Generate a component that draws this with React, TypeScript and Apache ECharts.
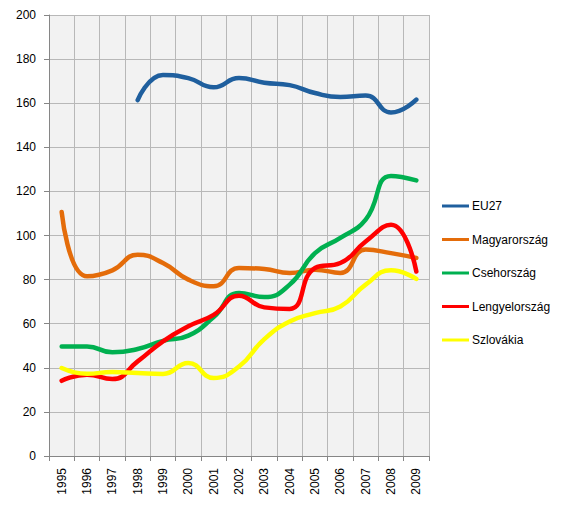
import React, { useEffect, useRef } from "react";
import * as echarts from "echarts";

const years = ["1995","1996","1997","1998","1999","2000","2001","2002","2003","2004","2005","2006","2007","2008","2009"];
const eu27 = [null, null, null, 161.4, 172.8, 171.4, 167.2, 171.4, 169.3, 168.2, 164.6, 162.8, 163.5, 155.8, 161.6];
const magyar = [110.7, 81.5, 84.2, 91.3, 87.5, 80.0, 77.0, 85.3, 84.8, 83.0, 84.5, 83.0, 93.6, 92.0, 89.8];
const cseh = [49.7, 49.7, 47.0, 48.5, 52.2, 54.6, 63.0, 73.9, 72.1, 77.7, 92.0, 98.9, 107.2, 127.0, 125.0];
const lengyel = [34.1, 36.9, 34.9, 42.9, 52.0, 58.8, 64.0, 72.7, 67.4, 66.7, 85.3, 87.5, 97.3, 104.9, 83.7];
const szlovakia = [39.9, 37.3, 38.1, 37.6, 37.2, 42.2, 35.4, 40.6, 53.0, 61.0, 64.8, 67.8, 77.7, 84.2, 80.3];
const seriesNames = ["EU27", "Magyarország", "Csehország", "Lengyelország", "Szlovákia"];
const seriesColors = ["#1f5f9e", "#e46c0a", "#00b050", "#ff0000", "#ffff00"];
const yTicks = { min: 0, max: 200, interval: 20 };

export default function App() {
  const ref = useRef<HTMLDivElement>(null);
  useEffect(() => {
    if (!ref.current) return;
    const chart = echarts.init(ref.current, null, { renderer: "svg" });
    const datasets = [eu27, magyar, cseh, lengyel, szlovakia];
    const font = "Liberation Sans, Arial, sans-serif";
    chart.setOption({
      animation: false,
      backgroundColor: "#ffffff",
      textStyle: { fontFamily: font },
      grid: {
        left: 49, right: 139, top: 15, bottom: 56,
        show: true, backgroundColor: "#f2f2f2", borderWidth: 0,
      },
      legend: {
        orient: "vertical",
        left: 442,
        top: 200,
        padding: 0,
        itemWidth: 27,
        itemHeight: 3,
        itemGap: 21.5,
        icon: "rect",
        data: seriesNames.map((n, i) => ({ name: n, itemStyle: { color: seriesColors[i] } })),
        itemStyle: { borderWidth: 0 },
        textStyle: { fontSize: 12, color: "#000", fontFamily: font, padding: [0, 0, 0, -2] },
      },
      xAxis: {
        type: "category",
        data: years,
        boundaryGap: true,
        axisLine: { lineStyle: { color: "#868686", width: 1 } },
        axisTick: { show: true, length: 5, lineStyle: { color: "#868686" }, alignWithLabel: false },
        axisLabel: { rotate: 90, margin: 12, color: "#000", fontSize: 12, fontFamily: font, interval: 0 },
        splitLine: { show: true, lineStyle: { color: "#b8b8b8", width: 1 } },
      },
      yAxis: {
        type: "value",
        min: yTicks.min,
        max: yTicks.max,
        interval: yTicks.interval,
        axisLine: { show: true, lineStyle: { color: "#868686", width: 1 } },
        axisTick: { show: true, length: 5, lineStyle: { color: "#868686" } },
        axisLabel: { margin: 13, color: "#000", fontSize: 12, fontFamily: font },
        splitLine: { show: true, lineStyle: { color: "#b8b8b8", width: 1 } },
      },
      series: seriesNames.map((n, i) => ({
        name: n,
        type: "line",
        data: datasets[i],
        smooth: 0.5,
        symbol: "none",
        connectNulls: false,
        color: seriesColors[i],
        lineStyle: { width: 4.5, color: seriesColors[i], cap: "round", join: "round" },
      })),
    });
    return () => chart.dispose();
  }, []);
  return <div ref={ref} style={{ width: 568, height: 512, position: "absolute", left: 0, top: 0 }} />;
}
